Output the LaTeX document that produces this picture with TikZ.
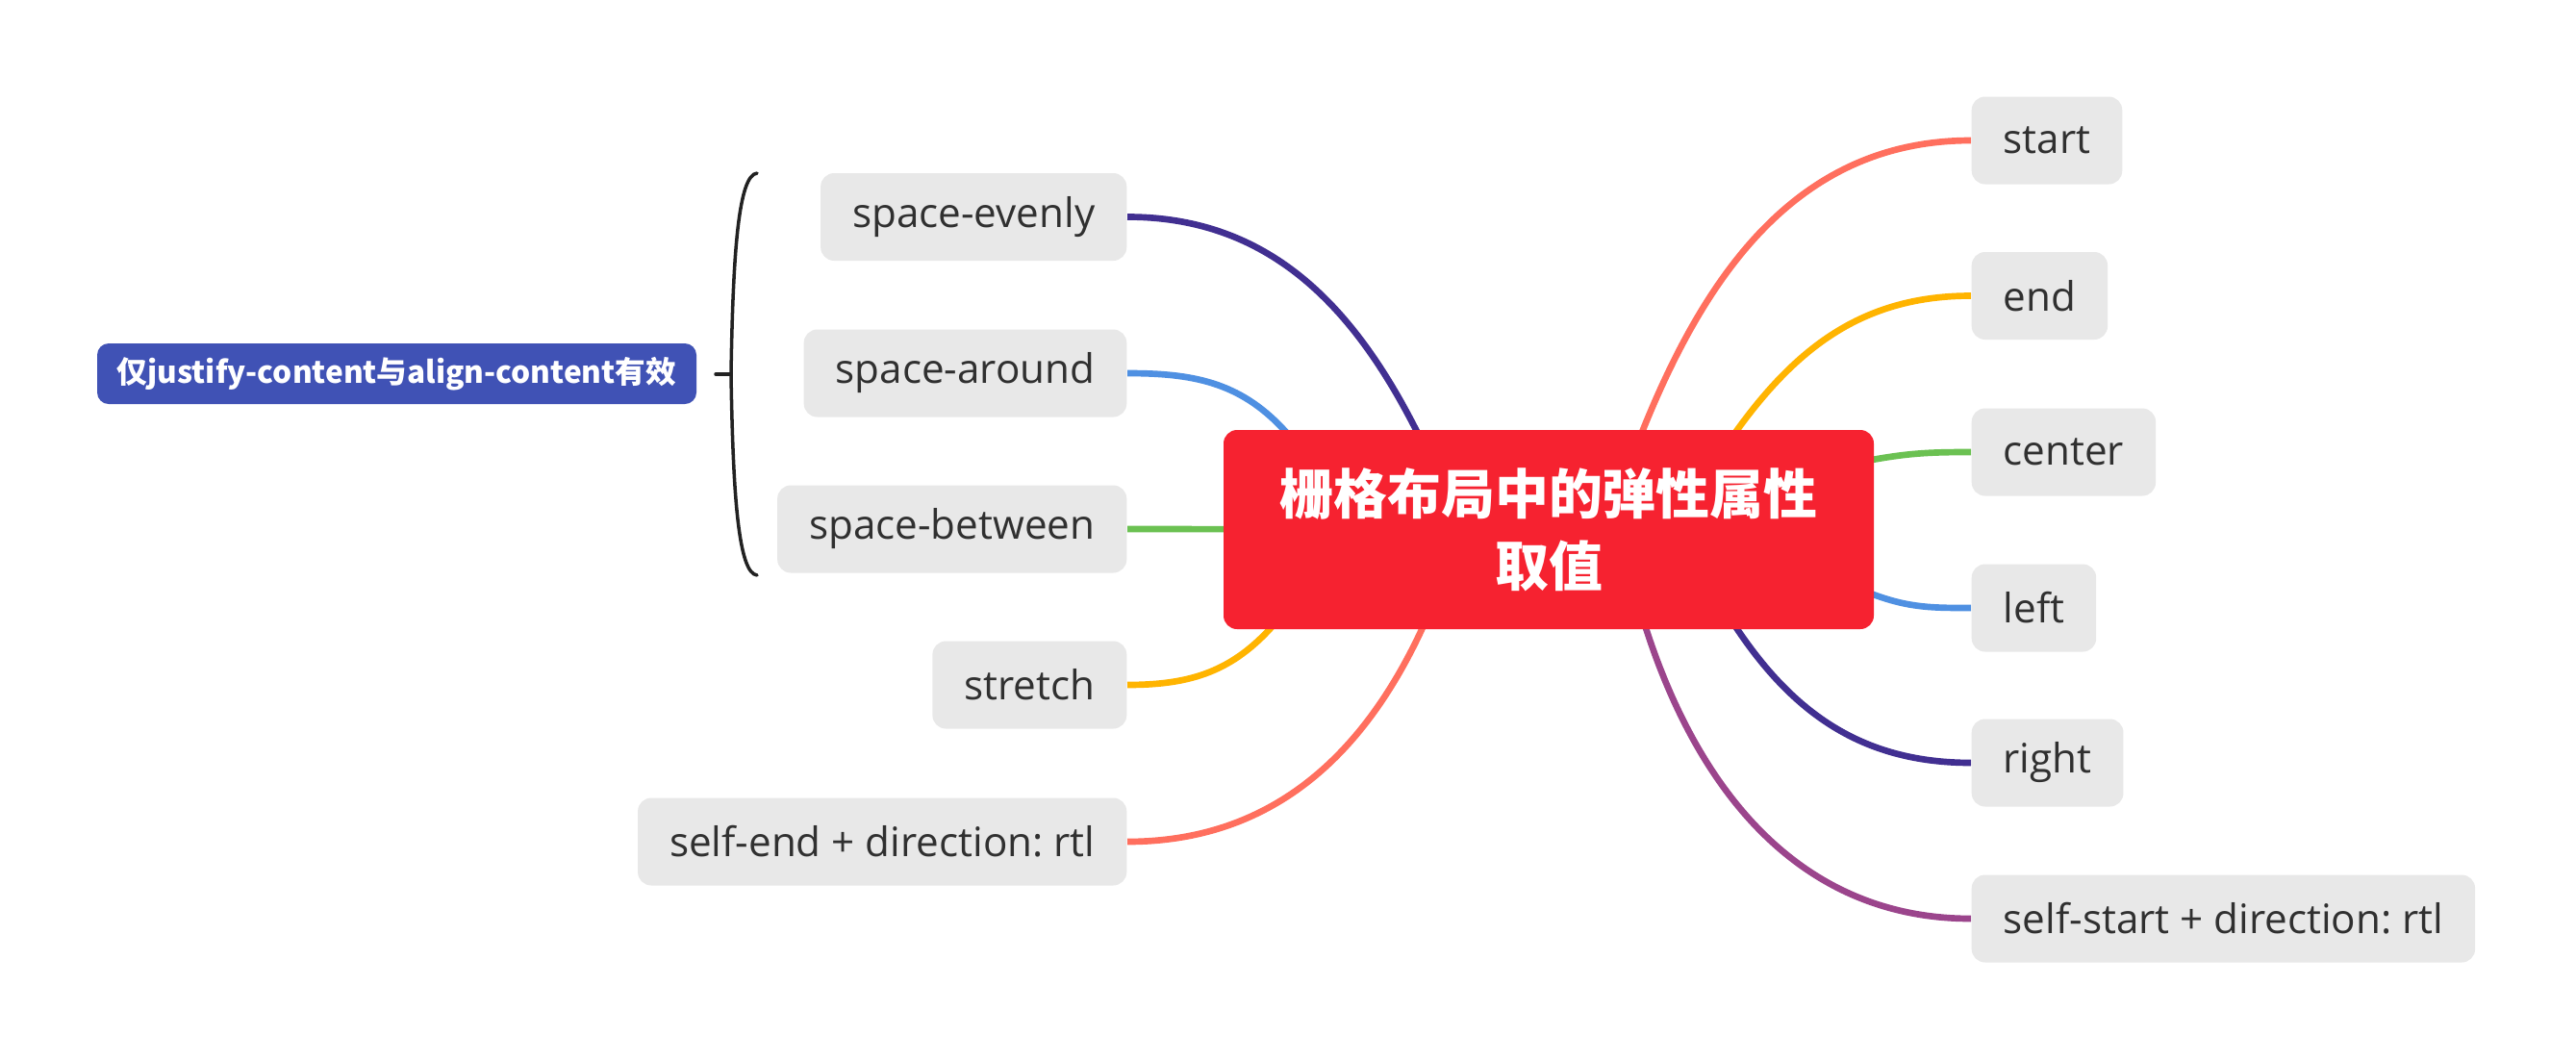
\documentclass[tikz,border=0pt]{standalone}
\usepackage{fontspec}
\setmainfont{Open Sans}
\newfontfamily\cjk{Noto Sans CJK SC}
\usetikzlibrary{calc,backgrounds}
\frenchspacing
\definecolor{coral}{RGB}{255,111,94}
\definecolor{amber}{RGB}{255,180,0}
\definecolor{mgreen}{RGB}{107,193,82}
\definecolor{mblue}{RGB}{79,144,226}
\definecolor{indigo}{RGB}{65,47,145}
\definecolor{mpurple}{RGB}{155,69,140}
\definecolor{rootred}{RGB}{246,34,48}
\definecolor{lblblue}{RGB}{64,82,181}
\definecolor{boxgray}{RGB}{232,232,232}
\definecolor{txtgray}{RGB}{48,48,48}
\definecolor{brkcol}{RGB}{34,34,34}
\tikzset{
  rootbox/.style={fill=rootred, text=white, rounded corners=0.14cm, minimum width=6.76cm,
    minimum height=2.07cm, align=center, font=\cjk\bfseries\fontsize{15.9}{21.3}\selectfont},
  lblbox/.style={fill=lblblue, text=white, rounded corners=0.12cm, minimum width=6.23cm,
    minimum height=0.63cm, inner sep=0pt, font=\cjk\bfseries\fontsize{9}{11}\selectfont},
  child/.style={fill=boxgray, text=txtgray, rounded corners=0.14cm, minimum height=0.91cm,
    inner xsep=0.33cm, font=\fontsize{12}{14}\selectfont},
  rchild/.style={child, anchor=west},
  lchild/.style={child, anchor=east},
  con/.style={line width=1.9pt},
  brk/.style={draw=brkcol, line width=1pt, line cap=round}
}
\begin{document}
\begin{tikzpicture}
\useasboundingbox (0,0) rectangle (26.78,-11.02);

\node[rootbox] (root) at (16.10,-5.505) {栅格布局中的弹性属性\\取值};

\node[rchild] (start) at (20.49,-1.46) {start};
\node[rchild] (end) at (20.49,-3.075) {end};
\node[rchild] (center) at (20.49,-4.70) {center};
\node[rchild] (left) at (20.49,-6.32) {left};
\node[rchild] (right) at (20.49,-7.93) {right};
\node[rchild] (selfstart) at (20.49,-9.55) {self-start + direction: rtl};

\node[lchild] (evenly) at (11.72,-2.255) {space-evenly};
\node[lchild] (around) at (11.72,-3.88) {space-around};
\node[lchild] (between) at (11.72,-5.50) {space-between};
\node[lchild] (stretch) at (11.72,-7.12) {stretch};
\node[lchild] (selfend) at (11.72,-8.75) {self-end + direction: rtl};

\node[lblbox] (note) at (4.125,-3.885) {仅justify-content与align-content有效};

\coordinate (xstart) at ($(root.north west)!0.645!(root.north east)$);
\coordinate (xend) at ($(root.north west)!0.79!(root.north east)$);
\coordinate (xcenter) at ($(root.north east)!0.15!(root.south east)$);
\coordinate (xleft) at ($(root.north east)!0.826!(root.south east)$);
\coordinate (xright) at ($(root.south west)!0.79!(root.south east)$);
\coordinate (xselfstart) at ($(root.south west)!0.65!(root.south east)$);
\coordinate (xevenly) at ($(root.north west)!0.296!(root.north east)$);
\coordinate (xaround) at ($(root.north west)!0.093!(root.north east)$);
\coordinate (xstretch) at ($(root.south west)!0.071!(root.south east)$);
\coordinate (xselfend) at ($(root.south west)!0.305!(root.south east)$);

\begin{scope}[on background layer]
\fill[white] (0,0) rectangle (26.78,-11.02);
\draw[con, coral] (xstart) ++(248:0.3) -- (xstart) to[out=68,in=180] (start.west);
\draw[con, amber] (xend) ++(234:0.3) -- (xend) to[out=54,in=180] (end.west);
\draw[con, mgreen] (xcenter) ++(190:0.3) -- (xcenter) to[out=10,in=180] (center.west);
\draw[con, mblue] (xleft) ++(160:0.3) -- (xleft) to[out=-20,in=180] (left.west);
\draw[con, indigo] (xright) ++(124:0.3) -- (xright) to[out=-56,in=180] (right.west);
\draw[con, mpurple] (xselfstart) ++(108:0.3) -- (xselfstart) to[out=-72,in=180] (selfstart.west);
\draw[con, indigo] (xevenly) ++(-63:0.3) -- (xevenly) to[out=117,in=0] (evenly.east);
\draw[con, mblue] (xaround) ++(-47:0.3) -- (xaround) to[out=133,in=0] (around.east);
\draw[con, mgreen] (root.center) -- (between.east);
\draw[con, amber] (xstretch) ++(47:0.3) -- (xstretch) to[out=227,in=0] (stretch.east);
\draw[con, coral] (xselfend) ++(65:0.3) -- (xselfend) to[out=245,in=0] (selfend.east);
\end{scope}

\coordinate (bmid) at (7.60,-3.89);
\coordinate (tick) at (7.44,-3.89);
\draw[brk] (7.87,-1.80) .. controls (7.68,-1.82) and (7.62,-2.60) .. (bmid)
  .. controls (7.62,-5.18) and (7.68,-5.96) .. (7.87,-5.98);
\draw[brk] (bmid) -- (tick);
\end{tikzpicture}
\end{document}
